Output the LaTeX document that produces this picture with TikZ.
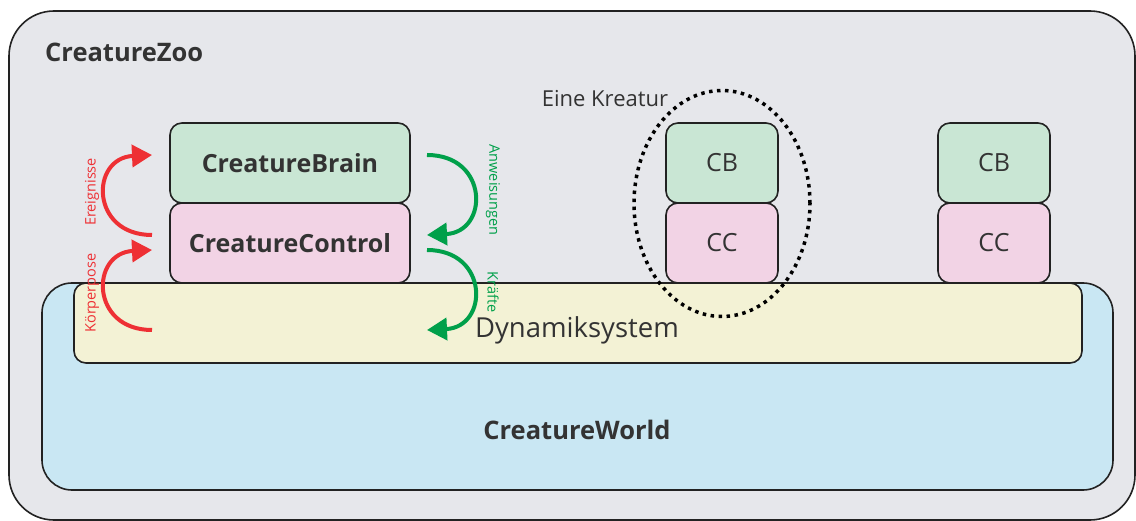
\documentclass[tikz,border=0pt]{standalone}
\usepackage{fontspec}
\setmainfont{Open Sans}
\usetikzlibrary{arrows.meta,shapes.geometric}
\definecolor{zoogray}{HTML}{E6E7EB}
\definecolor{brainfill}{HTML}{C9E6D4}
\definecolor{ctrlfill}{HTML}{F2D3E5}
\definecolor{dynfill}{HTML}{F3F2D5}
\definecolor{worldfill}{HTML}{C9E7F3}
\definecolor{redarrow}{HTML}{EE3034}
\definecolor{greenarrow}{HTML}{00A04A}
\definecolor{ink}{HTML}{333333}
\definecolor{edge}{HTML}{222222}
\tikzset{
  box/.style={draw=edge, line width=1.6pt, rounded corners=12pt, inner sep=0pt, outer sep=0pt,
    minimum height=80pt, text=ink},
  brainbox/.style={box, fill=brainfill},
  ctrlbox/.style={box, fill=ctrlfill},
  bigbox/.style={box, minimum width=240pt, font=\fontsize{25}{29}\selectfont\bfseries},
  smallbox/.style={box, minimum width=112pt, font=\fontsize{25}{29}\selectfont},
  flowred/.style={draw=redarrow, line width=4pt, -{Triangle[length=20pt,width=22pt]}},
  flowgreen/.style={draw=greenarrow, line width=4pt, -{Triangle[length=20pt,width=22pt]}},
  flowlabel/.style={font=\fontsize{14.5}{17}\selectfont, inner sep=0pt},
  title/.style={text=ink, inner sep=0pt, font=\fontsize{25.5}{29}\selectfont\bfseries},
}
\begin{document}
\begin{tikzpicture}[x=1pt, y=-1pt]
\useasboundingbox (0,0) rectangle (1136,521);

% outer zoo container
\node[draw=edge, line width=1.6pt, fill=zoogray, rounded corners=45pt, minimum width=1126pt,
  minimum height=509pt, inner sep=0pt] (zoo) at (572,265.5) {};
\node[title, anchor=west] (zoolabel) at (45,52) {CreatureZoo};

% world and its dynamics system
\node[draw=edge, line width=1.6pt, fill=worldfill, rounded corners=30pt, minimum width=1071pt,
  minimum height=207pt, inner sep=0pt] (world) at (577.5,386.5) {};
\node[draw=edge, line width=1.6pt, fill=dynfill, rounded corners=12pt, minimum width=1008pt,
  minimum height=80pt, inner sep=0pt] (dyn) at (578,323) {};
\node[text=ink, inner sep=0pt, font=\fontsize{27.5}{31}\selectfont] (dynlabel) at (577,330) {Dynamiksystem};
\node[title] (worldlabel) at (577,430) {CreatureWorld};

% creature stacks
\node[bigbox, brainbox] (brain) at (290,163) {CreatureBrain};
\node[bigbox, ctrlbox] (control) at (290,243) {CreatureControl};
\node[smallbox, brainbox] (cb1) at (722,163) {CB};
\node[smallbox, ctrlbox] (cc1) at (722,243) {CC};
\node[smallbox, brainbox] (cb2) at (994,163) {CB};
\node[smallbox, ctrlbox] (cc2) at (994,243) {CC};

% one creature highlighted
\node[draw=black, line width=3.5pt, dash pattern=on 3.5pt off 4.5pt, ellipse, minimum width=176pt,
  minimum height=226pt, inner sep=0pt] (kreatur) at (722,203.5) {};
\node[text=ink, inner sep=0pt, font=\fontsize{22}{26}\selectfont] (kreaturlabel) at (605,99) {Eine Kreatur};

% arrow end points
\coordinate (evS) at (152,235);
\coordinate (evE) at (152,155);
\coordinate (poS) at (152,330);
\coordinate (poE) at (152,250);
\coordinate (cmS) at (427,155);
\coordinate (cmE) at (427,235);
\coordinate (frS) at (427,250);
\coordinate (frE) at (427,330);

% upward flow: events and body pose
\draw[flowred] (evS) .. controls (90,235) and (90,158) .. (evE);
\draw[flowred] (poS) .. controls (90,330) and (90,253) .. (poE);
% downward flow: commands and forces
\draw[flowgreen] (cmS) .. controls (489,155) and (489,232) .. (cmE);
\draw[flowgreen] (frS) .. controls (489,250) and (489,327) .. (frE);

\node[flowlabel, text=redarrow, rotate=90] (evlabel) at (92,192) {Ereignisse};
\node[flowlabel, text=redarrow, rotate=90] (polabel) at (92,293) {Körperpose};
\node[flowlabel, text=greenarrow, rotate=-90] (cmlabel) at (493,190) {Anweisungen};
\node[flowlabel, text=greenarrow, rotate=-90] (frlabel) at (493,292) {Kräfte};
\end{tikzpicture}
\end{document}
